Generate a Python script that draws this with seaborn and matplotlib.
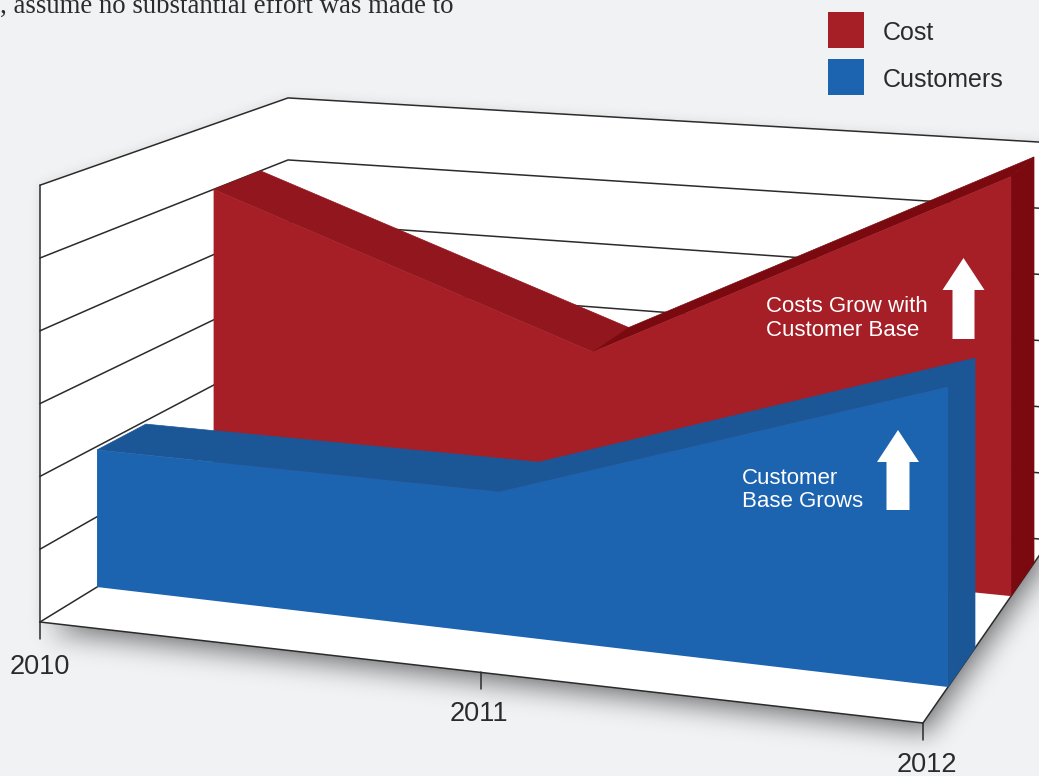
import numpy as np
import pandas as pd
import seaborn as sns
import matplotlib
matplotlib.use("Agg")
import matplotlib.pyplot as plt
from matplotlib.path import Path
from matplotlib.patches import Rectangle

# Chart values
years = ["2010", "2011", "2012"]
cost = [5.0, 2.99, 5.99]
customers = [1.95, 1.95, 3.94]
series_names = ["Cost", "Customers"]
callouts = ["Costs Grow with\nCustomer Base", "Customer\nBase Grows"]
intro_line = ", assume no substantial effort was made to"

# Box layout: floor corners in canvas pixels and the height of one value unit
W, H = 1039, 776
FLOOR = np.array([[40, 622], [923, 723], [1050, 540], [288, 470]], float)
UNIT = 72.8
HEIGHT_FALLOFF = (-0.0746, 0.174)
LEVELS = 6
TICK_POS = [0.0, 0.526, 1.0]
SERIES_POS = [0.0, 0.5, 1.0]

# Depth of each band at its left and right ends
COST_DEPTH = {"front": (0.665, 0.654), "back": (0.872, 0.853)}
CUST_DEPTH = {"front": (0.2026, 0.170), "back": (0.388, 0.367)}

BG = "#F1F2F4"
INK = "#2B2B2B"
RED, RED_TOP, RED_DARK = "#A61E26", "#92161E", "#7A0A10"
BLUE, BLUE_DARK = "#1C63B0", "#1B5797"


def floor_transform(corners):
    a, b, c, d = corners
    s = a - b + c - d
    d1, d2 = b - c, d - c
    det = d1[0] * d2[1] - d2[0] * d1[1]
    g = (s[0] * d2[1] - d2[0] * s[1]) / det
    h = (d1[0] * s[1] - s[0] * d1[1]) / det
    return np.array([
        [b[0] - a[0] + g * b[0], d[0] - a[0] + h * d[0], a[0]],
        [b[1] - a[1] + g * b[1], d[1] - a[1] + h * d[1], a[1]],
        [g, h, 1.0],
    ])


M = floor_transform(FLOOR)


def project(u, depth, value=0.0):
    x, y, w = M @ np.array([u, depth, 1.0])
    scale = UNIT / (1 + HEIGHT_FALLOFF[0] * u + HEIGHT_FALLOFF[1] * depth)
    return np.array([x / w, y / w - value * scale])


def band(ax, values, depths, face, top_left, top_right, side, z):
    pos = SERIES_POS

    def dep(kind, u):
        a, b = depths[kind]
        return a + (b - a) * u

    front = [project(u, dep("front", u), v) for u, v in zip(pos, values)]
    back = [project(u, dep("back", u), v) for u, v in zip(pos, values)]
    base_l = project(0, dep("front", 0))
    base_r = project(1, dep("front", 1))
    base_rb = project(1, dep("back", 1))
    # Thin same-colour edges close the antialiasing seams between faces
    ax.fill(*zip(front[0], front[1], back[1], back[0]), facecolor=top_left,
            edgecolor=top_left, lw=0.5, zorder=z)
    ax.fill(*zip(front[1], front[2], back[2], back[1]), facecolor=top_right,
            edgecolor=top_right, lw=0.5, zorder=z)
    ax.fill(*zip(front[2], back[2], base_rb, base_r), facecolor=side,
            edgecolor=side, lw=0.5, zorder=z)
    ax.fill(*zip(base_l, front[0], front[1], front[2], base_r), color=face, lw=0, zorder=z + 0.1)


def blurred(poly, sigma, shift=(0, 0), pad=120):
    gx, gy = np.meshgrid(np.arange(-pad, W + pad) + 0.5, np.arange(-pad, H + pad) + 0.5)
    pts = np.column_stack([gx.ravel() - shift[0], gy.ravel() - shift[1]])
    mask = Path(poly).contains_points(pts).reshape(gx.shape).astype(float)
    fy = np.fft.fftfreq(mask.shape[0])[:, None]
    fx = np.fft.rfftfreq(mask.shape[1])[None, :]
    kernel = np.exp(-2 * (np.pi * sigma) ** 2 * (fx ** 2 + fy ** 2))
    out = np.fft.irfft2(np.fft.rfft2(mask) * kernel, s=mask.shape)
    return out[pad:-pad, pad:-pad].clip(0, 1)


sns.set_theme(style="white")
fig = plt.figure(figsize=(W / 100, H / 100), dpi=100, facecolor=BG)
ax = fig.add_axes([0, 0, 1, 1])
ax.set_xlim(0, W)
ax.set_ylim(H, 0)
ax.axis("off")

a_top = project(0, 0, LEVELS)
d_top = project(0, 1, LEVELS)
c_top = project(1, 1, LEVELS)
outline = np.array([FLOOR[0], FLOOR[1], FLOOR[2], c_top, d_top, a_top])

# Soft drop shadows around the box
shade = 0.42 * blurred(FLOOR, 12, shift=(6, 12)) + 0.10 * blurred(outline, 6)
rgba = np.zeros((H, W, 4))
rgba[..., 3] = shade.clip(0, 1)
ax.imshow(rgba, extent=(0, W, H, 0), zorder=0.5, aspect="auto")

# Walls and floor
ax.fill(*zip(*outline), color="white", lw=0, zorder=1)

# Grid lines on the two walls
rows = []
for lvl in range(LEVELS + 1):
    path = [project(0, 0, lvl), project(0, 1, lvl), project(1, 1, lvl)]
    for p in path:
        rows.append({"line": f"g{lvl}", "px": p[0], "py": p[1]})
for name, u0, d0, u1, d1 in [("front", 0, 0, 1, 0), ("side", 1, 0, 1, 1)]:
    for p in (project(u0, d0), project(u1, d1)):
        rows.append({"line": name, "px": p[0], "py": p[1]})
for p in (project(0, 0, LEVELS), project(0, 0)):
    rows.append({"line": "corner", "px": p[0], "py": p[1]})
for i, u in enumerate(TICK_POS):
    p = project(u, 0)
    rows.append({"line": f"t{i}", "px": p[0], "py": p[1]})
    rows.append({"line": f"t{i}", "px": p[0], "py": p[1] + 17})
grid = pd.DataFrame(rows)
sns.lineplot(data=grid, x="px", y="py", units="line", estimator=None, sort=False,
             color=INK, linewidth=1.1, legend=False, ax=ax, zorder=2)
ax.set_xlim(0, W)
ax.set_ylim(H, 0)

# Area bands
band(ax, cost, COST_DEPTH, RED, RED_TOP, RED_DARK, RED_DARK, 3)
band(ax, customers, CUST_DEPTH, BLUE, BLUE_DARK, BLUE_DARK, BLUE_DARK, 4)

# Up arrows
ax.arrow(963.5, 339, 0, -81, width=22, head_width=42, head_length=32,
         length_includes_head=True, color="white", lw=0, zorder=5)
ax.arrow(898, 510, 0, -80, width=23, head_width=42, head_length=32,
         length_includes_head=True, color="white", lw=0, zorder=5)

# Callouts
sans = "Liberation Sans"
ax.text(766, 318.5, callouts[0], color="white", fontsize=16, family=sans,
        va="center", ha="left", linespacing=1.17, zorder=6)
ax.text(742, 490, callouts[1], color="white", fontsize=16, family=sans,
        va="center", ha="left", linespacing=1.17, zorder=6)

# Axis labels
for label, (lx, ly) in zip(years, [(39.5, 667), (479, 714), (927, 765.5)]):
    ax.text(lx, ly, label, color=INK, fontsize=19.5, family=sans,
            ha="center", va="center", zorder=6)

# Legend
for (name, color, top) in zip(series_names, [RED, BLUE], [12, 59]):
    ax.add_patch(Rectangle((828, top), 36, 36, color=color, lw=0, zorder=6))
    ax.text(883, top + 21, name, color=INK, fontsize=18, family=sans,
            ha="left", va="center", zorder=6)

ax.text(0, 12.5, intro_line, color=INK, fontsize=19.3, family="Liberation Serif",
        ha="left", va="baseline", zorder=6)

fig.savefig("out.png", dpi=100, facecolor=BG)
